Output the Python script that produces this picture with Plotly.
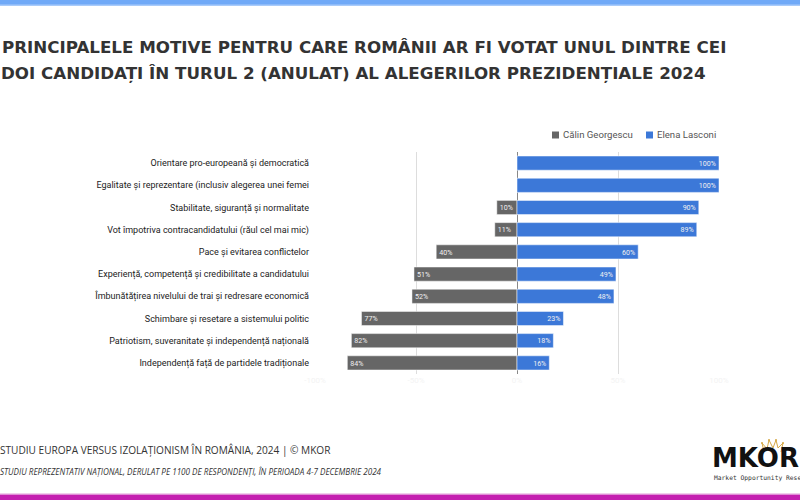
import plotly.graph_objects as go

categories = [
    "Orientare pro-europeană și democratică",
    "Egalitate și reprezentare (inclusiv alegerea unei femei",
    "Stabilitate, siguranță și normalitate",
    "Vot împotriva contracandidatului (răul cel mai mic)",
    "Pace și evitarea conflictelor",
    "Experiență, competență și credibilitate a candidatului",
    "Îmbunătățirea nivelului de trai și redresare economică",
    "Schimbare și resetare a sistemului politic",
    "Patriotism, suveranitate și independență națională",
    "Independență față de partidele tradiționale",
]
georgescu = [0, 0, 10, 11, 40, 51, 52, 77, 82, 84]
lasconi = [100, 100, 90, 89, 60, 49, 48, 23, 18, 16]
series_names = ["Călin Georgescu", "Elena Lasconi"]
series_colors = ["#666666", "#3c78d8"]
tick_vals = [-100, -50, 0, 50, 100]
tick_text = ["-100%", "-50%", "0%", "50%", "100%"]

W, H = 800, 500
L, R, T, B = 315, 81, 152, 126
PW, PH = W - L - R, H - T - B

def px(x):
    return (x - L) / PW

def py(y):
    return (H - B - y) / PH

bar_text_font = dict(color="#f0f0f0", size=9.5, family="Roboto")
fig = go.Figure()
fig.add_trace(go.Bar(
    y=categories, x=[-v for v in georgescu], orientation="h", name=series_names[0],
    marker=dict(color=series_colors[0], line=dict(color="rgba(255,255,255,0.5)", width=1)),
    text=[f"{v}%" if v else "" for v in georgescu], textposition="inside",
    insidetextanchor="end", textfont=bar_text_font,
    width=0.64, hoverinfo="skip", showlegend=False,
))
fig.add_trace(go.Bar(
    y=categories, x=lasconi, orientation="h", name=series_names[1],
    marker=dict(color=series_colors[1], line=dict(color="rgba(255,255,255,0.5)", width=1)),
    text=[f"{v}%" for v in lasconi], textposition="inside",
    insidetextanchor="end", textfont=bar_text_font,
    width=0.64, hoverinfo="skip", showlegend=False,
))

fig.update_layout(
    width=W, height=H, barmode="relative",
    margin=dict(l=L, r=R, t=T, b=B, pad=0),
    paper_bgcolor="white", plot_bgcolor="white",
    font=dict(family="Roboto", color="#222222"),
    showlegend=False,
    xaxis=dict(range=[-100, 100], tickvals=tick_vals, ticktext=tick_text,
               showgrid=True, gridcolor="#dddddd", gridwidth=1,
               zeroline=True, zerolinecolor="#888888", zerolinewidth=1,
               tickfont=dict(size=8, color="#f3f3f3"), showline=False, fixedrange=True),
    yaxis=dict(categoryorder="array", categoryarray=categories[::-1], autorange=False,
               range=[-0.5, len(categories) - 0.5],
               tickfont=dict(size=9, color="#222222", family="Roboto"),
               ticklabelstandoff=5, showgrid=False, zeroline=False, fixedrange=True),
)

shapes = [
    dict(type="rect", xref="paper", yref="paper", x0=px(0), x1=px(800), y0=py(0), y1=py(5),
         fillcolor="#70a9f7", line=dict(width=0), layer="above"),
    dict(type="rect", xref="paper", yref="paper", x0=px(0), x1=px(800), y0=py(4.5), y1=py(6),
         fillcolor="#a9cbfa", line=dict(width=0), layer="above"),
    dict(type="rect", xref="paper", yref="paper", x0=px(0), x1=px(800), y0=py(493.5), y1=py(494.7),
         fillcolor="#e39bd9", line=dict(width=0), layer="above"),
    dict(type="rect", xref="paper", yref="paper", x0=px(0), x1=px(800), y0=py(494.7), y1=py(500),
         fillcolor="#c41fb0", line=dict(width=0), layer="above"),
]
# legend (manual, to match tight symbol/text spacing)
legend_x = [552, 646]
for lx, name, col in zip(legend_x, series_names, series_colors):
    shapes.append(dict(type="rect", xref="paper", yref="paper", x0=px(lx), x1=px(lx + 7),
                       y0=py(131.5), y1=py(138.5), fillcolor=col, line=dict(width=0)))

# logo crown (decoration)
crown_pts = [(764, 452), (762, 443), (767, 449), (769, 440), (773, 448), (776, 440),
             (778, 448), (783, 443), (781, 452)]
crown_path = "M " + " L ".join(f"{px(a):.5f},{py(b):.5f}" for a, b in crown_pts)
shapes.append(dict(type="path", xref="paper", yref="paper", path=crown_path,
                   line=dict(color="#d6a846", width=1), fillcolor="rgba(0,0,0,0)"))
for a, b in [(762, 443), (769, 440), (776, 440), (783, 443)]:
    shapes.append(dict(type="circle", xref="paper", yref="paper",
                       x0=px(a - 1), x1=px(a + 1), y0=py(b - 1), y1=py(b + 1),
                       fillcolor="#d6a846", line=dict(width=0)))
fig.update_layout(shapes=shapes)

title_font = dict(family="DejaVu Sans", size=16.7, color="#333333", weight=700)
ann = [
    dict(text="PRINCIPALELE MOTIVE PENTRU CARE ROMÂNII AR FI VOTAT UNUL DINTRE CEI",
         x=px(0), y=py(46.5), font=title_font),
    dict(text="DOI CANDIDAȚI ÎN TURUL 2 (ANULAT) AL ALEGERILOR PREZIDENȚIALE 2024",
         x=px(-1), y=py(73.5), font=title_font),
    dict(text="STUDIU EUROPA VERSUS IZOLAȚIONISM ÎN ROMÂNIA, 2024 | © MKOR",
         x=px(-2), y=py(450), font=dict(family="Open Sans", size=10.1, color="#333333")),
    dict(text="<i>STUDIU REPREZENTATIV NAȚIONAL, DERULAT PE 1100 DE RESPONDENȚI, ÎN PERIOADA 4-7 DECEMBRIE 2024</i>",
         x=px(-2), y=py(471), font=dict(family="Open Sans", size=8.1, color="#333333")),
    dict(text="<b>MKOR</b>", x=px(710), y=py(458),
         font=dict(family="DejaVu Sans", size=26, color="#111111")),
    dict(text="Market Opportunity Research", x=px(712), y=py(478),
         font=dict(family="DejaVu Sans Mono", size=6.3, color="#333333")),
]
for lx, name in zip(legend_x, series_names):
    ann.append(dict(text=name, x=px(lx + 9), y=py(135),
                    font=dict(family="Roboto", size=9.6, color="#555555")))
for a in ann:
    a.update(xref="paper", yref="paper", xanchor="left", yanchor="middle", showarrow=False)
fig.update_layout(annotations=ann)

fig.write_html("out.html", config={"displayModeBar": False},
               post_script="document.body.style.margin='0';document.body.style.overflow='hidden';")
